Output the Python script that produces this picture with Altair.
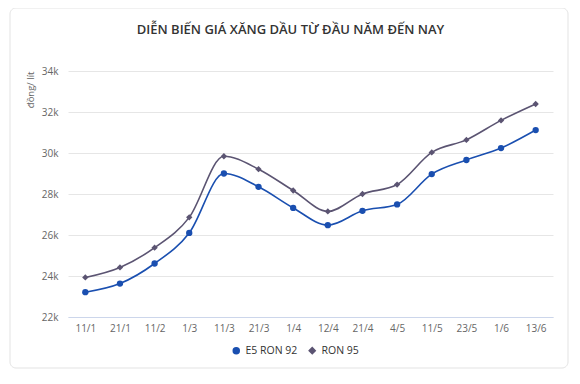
import altair as alt
import pandas as pd

dates = ["11/1", "21/1", "11/2", "1/3", "11/3", "21/3", "1/4", "12/4",
         "21/4", "4/5", "11/5", "23/5", "1/6", "13/6"]
e5_ron92 = [23210, 23630, 24610, 26100, 29000, 28350, 27320, 26480,
            27180, 27490, 28970, 29660, 30240, 31120]
ron95 = [23930, 24420, 25380, 26860, 29840, 29210, 28170, 27150,
         28000, 28460, 30030, 30640, 31590, 32390]
series_names = ["E5 RON 92", "RON 95"]
series_colors = ["#1a4fb0", "#5b5472"]
series_shapes = ["circle", "diamond"]

rows = []
for i, d in enumerate(dates):
    rows.append({"date": d, "order": i, "series": series_names[0], "price": e5_ron92[i]})
    rows.append({"date": d, "order": i, "series": series_names[1], "price": ron95[i]})
df = pd.DataFrame(rows)

x_enc = alt.X("date:N", sort=dates, title=None,
              scale=alt.Scale(type="point", padding=0.5),
              axis=alt.Axis(labelAngle=0, ticks=False, grid=False,
                            domainColor="#ccd6eb", labelPadding=6,
                            labelColor="#666666", labelFontSize=10))
y_enc = alt.Y("price:Q", title="đồng/ lít",
              scale=alt.Scale(domain=[22000, 34000], nice=False, zero=False),
              axis=alt.Axis(values=[22000, 24000, 26000, 28000, 30000, 32000, 34000],
                            labelExpr="datum.value / 1000 + 'k'",
                            ticks=False, domain=False, gridColor="#e6e6e6",
                            labelPadding=10, labelColor="#666666", labelFontSize=10,
                            titleAnchor="end", titleFontWeight="normal",
                            titleColor="#666666", titleFontSize=9.5, titlePadding=6))
color_scale = alt.Scale(domain=series_names, range=series_colors)
shape_scale = alt.Scale(domain=series_names, range=series_shapes)

base = alt.Chart(df)

lines = base.mark_line(interpolate="monotone", strokeWidth=1.6).encode(
    x=x_enc, y=y_enc,
    color=alt.Color("series:N", scale=color_scale),
    detail="series:N",
)

points = base.mark_point(filled=True, opacity=1, size=40).encode(
    x=x_enc, y=y_enc,
    color=alt.Color("series:N", scale=color_scale),
    shape=alt.Shape("series:N", scale=shape_scale),
)

card = alt.Chart(pd.DataFrame({"a": [0]})).mark_rect(
    fill="transparent", stroke="#e3e3e3", strokeWidth=1, cornerRadius=6
).encode(x=alt.value(-58), x2=alt.value(500), y=alt.value(-63), y2=alt.value(297))

chart = alt.layer(card, lines, points).properties(
    width=485, height=246,
    autosize=alt.AutoSizeParams(type="none"),
    padding={"left": 60, "top": 63, "right": 19, "bottom": 60},
    title=alt.TitleParams("DIỄN BIẾN GIÁ XĂNG DẦU TỪ ĐẦU NĂM ĐẾN NAY",
                          anchor="middle", dx=-20, offset=-29, fontSize=13,
                          fontWeight=600, color="#333333", font="Open Sans"),
).configure(font="Open Sans").configure_view(stroke=None).configure_legend(
    title=None, orient="none", direction="horizontal",
    legendX=163, legendY=274, labelFontSize=10.5, labelColor="#333333",
    symbolSize=36, columnPadding=8, symbolStrokeWidth=1.5
)

chart.save("out.html", embed_options={"renderer": "svg", "actions": False})
